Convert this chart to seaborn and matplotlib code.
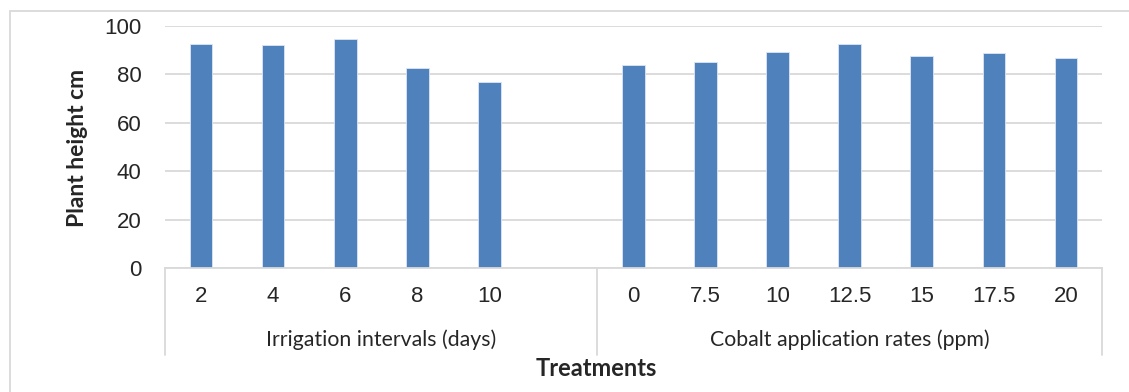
import matplotlib
matplotlib.use("Agg")
import matplotlib.pyplot as plt
from matplotlib.patches import Rectangle
import matplotlib.transforms as mtransforms
import seaborn as sns
import pandas as pd
import numpy as np

# Data
irrigation_labels = ["2", "4", "6", "8", "10"]
irrigation_height = [92.4, 92.1, 94.7, 82.7, 76.8]
cobalt_labels = ["0", "7.5", "10", "12.5", "15", "17.5", "20"]
cobalt_height = [83.7, 85.3, 89.1, 92.5, 87.5, 89.0, 86.9]
group_names = ["Irrigation intervals (days)", "Cobalt application rates (ppm)"]

# one slot per bar, plus an empty slot closing the irrigation group
slots = [f"I{l}" for l in irrigation_labels] + ["gap"] + [f"C{l}" for l in cobalt_labels]
tick_text = irrigation_labels + [""] + cobalt_labels
df = pd.DataFrame({
    "slot": [f"I{l}" for l in irrigation_labels] + [f"C{l}" for l in cobalt_labels],
    "height": irrigation_height + cobalt_height,
})

sns.set_style("white")
num_font = ["Liberation Sans", "DejaVu Sans"]
txt_font = ["Lato", "DejaVu Sans"]
grid_col = "#D9D9D9"

W, H = 1129, 392
fig = plt.figure(figsize=(W / 100, H / 100), dpi=100)
ax = fig.add_axes([165 / W, 1 - 268.3 / H, (1102 - 165) / W, (268.3 - 26) / H])

sns.barplot(data=df, x="slot", y="height", order=slots, color="#4F81BD",
            width=0.315, saturation=1, edgecolor="#DCE6F2", linewidth=0.6, ax=ax)

ax.set_xlim(-0.5, len(slots) - 0.5)
ax.set_ylim(0, 100)
ax.set_yticks(np.arange(0, 101, 20))
ax.set_yticklabels([str(v) for v in range(0, 101, 20)], fontsize=16, family=num_font)
ax.tick_params(axis="y", length=0, pad=17)
ax.yaxis.grid(True, color=grid_col, linewidth=1.3)
ax.set_axisbelow(True)
for s in ["left", "right", "top"]:
    ax.spines[s].set_visible(False)
ax.spines["bottom"].set_color(grid_col)
ax.spines["bottom"].set_linewidth(1.3)
ax.set_xticks([])
ax.set_xlabel("")
ax.set_ylabel("")

trans = mtransforms.blended_transform_factory(ax.transData, ax.transAxes)
for i, t in enumerate(tick_text):
    ax.text(i, -0.117, t, transform=trans, ha="center", va="center",
            fontsize=16, family=num_font)

# group labels and separators
n_irr = len(irrigation_labels) + 1
bounds = [-0.5, n_irr - 0.5, len(slots) - 0.5]
for b in bounds:
    ax.plot([b, b], [0, -0.359], transform=trans, color=grid_col, lw=1.3, clip_on=False)
for name, lo, hi in zip(group_names, bounds[:-1], bounds[1:]):
    ax.text((lo + hi) / 2, -0.296, name, transform=trans, ha="center", va="center",
            fontsize=15.3, family=txt_font)

fig.text(78 / W, 1 - 148 / H, "Plant height cm", rotation=90, ha="center", va="center",
         fontsize=16.5, fontweight="bold", family=txt_font)
fig.text(596 / W, 1 - 368 / H, "Treatments", ha="center", va="center",
         fontsize=17, fontweight="bold", family=txt_font)

# chart area border (clipped on right and bottom in the reference)
fig.add_artist(Rectangle((10 / W, -0.2), 2, 1.2 - 11 / H, transform=fig.transFigure,
                         fill=False, edgecolor=grid_col, lw=1.3))

fig.savefig("out.png", dpi=100)
